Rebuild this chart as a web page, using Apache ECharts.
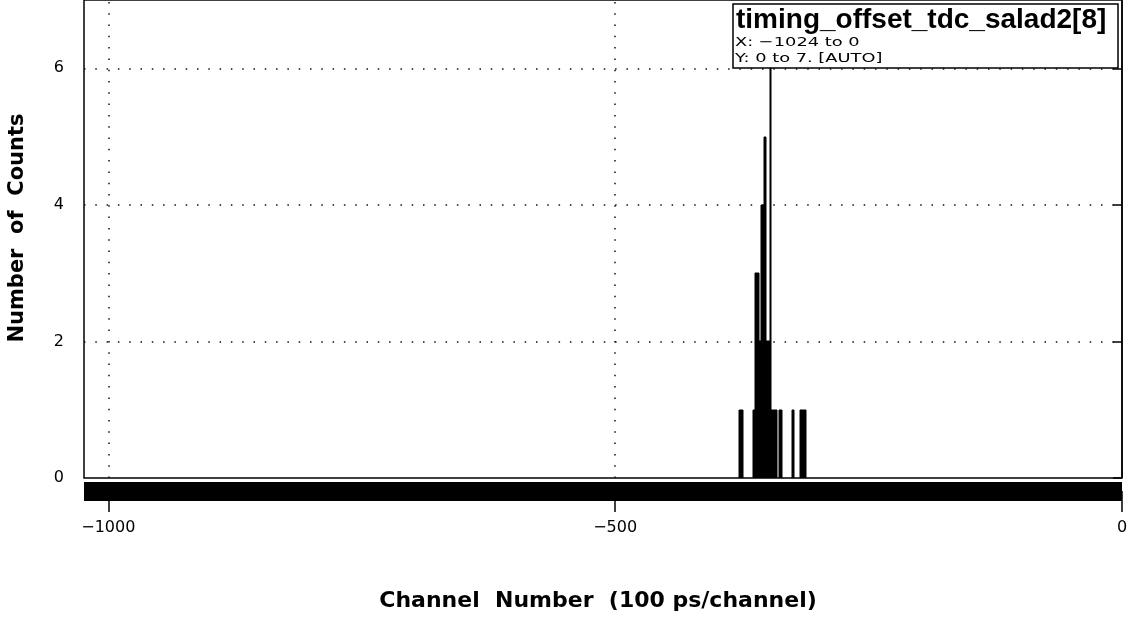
<!DOCTYPE html>
<html>
<head>
<meta charset="utf-8">
<script src="https://cdn.jsdelivr.net/npm/echarts@6/dist/echarts.min.js"></script>
<style>
  html, body { margin: 0; padding: 0; background: #fff; }
  #chart { width: 1130px; height: 617px; }
</style>
</head>
<body>
<div id="chart"></div>
<script>
// Histogram: one entry per filled channel (lower edge) and its count
const binChannels = [
  -378, -377, -376, -375,
  -364, -363,
  -362, -361, -360, -359,
  -358, -357,
  -356, -355, -354,
  -353, -352,
  -351, -350, -349, -348,
  -347,
  -346, -345, -344, -343, -342, -341,
  -338, -337, -336,
  -326, -325,
  -318, -317, -316, -315, -314, -313
];
const binCounts = [
  1, 1, 1, 1,
  1, 1,
  3, 3, 3, 3,
  2, 2,
  4, 4, 4,
  5, 5,
  2, 2, 2, 2,
  6,
  1, 1, 1, 1, 1, 1,
  1, 1, 1,
  1, 1,
  1, 1, 1, 1, 1, 1
];

const xRange = [-1024, 0];
const yRange = [0, 7];
const xTicks = [-1000, -500, 0];
const yTicks = [0, 2, 4, 6];

const histTitle = 'timing_offset_tdc_salad2[8]';
const rangeLines = ['X: \u22121024 to 0', 'Y: 0 to 7. [AUTO]'];
const xTitle = 'Channel  Number  (100 ps/channel)';
const yTitle = 'Number  of  Counts';

const minus = v => (v < 0 ? '\u2212' + Math.abs(v) : String(v));

const chart = echarts.init(document.getElementById('chart'), null, { renderer: 'canvas' });

const dotted = { color: '#111', width: 1.5, type: [1.5, 9.8], cap: 'butt' };

chart.setOption({
  animation: false,
  backgroundColor: '#fff',
  grid: {
    left: 84, right: 8, top: 0, bottom: 139,
    containLabel: false,
    outerBoundsMode: 'none',
    show: true,
    borderColor: '#000',
    borderWidth: 1.5,
    backgroundColor: 'transparent'
  },
  xAxis: {
    type: 'value',
    min: xRange[0],
    max: xRange[1],
    offset: 13,
    axisLine: { show: true, onZero: false, lineStyle: { color: '#000', width: 19, cap: 'butt' } },
    axisTick: { show: true, length: 21, customValues: xTicks, lineStyle: { color: '#000', width: 1.5, cap: 'butt' } },
    axisLabel: {
      customValues: xTicks,
      formatter: minus,
      margin: 29,
      color: '#000',
      fontFamily: 'DejaVu Sans',
      fontSize: 16
    },
    splitLine: { show: false }
  },
  yAxis: {
    type: 'value',
    min: yRange[0],
    max: yRange[1],
    axisLine: { show: true, lineStyle: { color: '#000', width: 1.5, cap: 'butt' } },
    axisTick: { show: true, length: 9, customValues: yTicks, lineStyle: { color: '#000', width: 1.5, cap: 'butt' } },
    axisLabel: {
      customValues: yTicks,
      margin: 20,
      color: '#000',
      fontFamily: 'DejaVu Sans',
      fontSize: 16
    },
    splitLine: { show: false }
  },
  series: [
    {
      // dotted reference lines at the labelled ticks
      type: 'line',
      data: [],
      silent: true,
      markLine: {
        silent: true,
        symbol: 'none',
        label: { show: false },
        lineStyle: dotted,
        data: xTicks.filter(v => v > xRange[0] && v < xRange[1]).map(v => ({ xAxis: v }))
          .concat(yTicks.filter(v => v > yRange[0] && v < yRange[1]).map(v => ({ yAxis: v })))
      }
    },
    {
      type: 'custom',
      data: binChannels.map((c, i) => [c, binCounts[i]]),
      encode: { x: 0, y: 1 },
      clip: true,
      renderItem(params, api) {
        const c = api.value(0);
        const v = api.value(1);
        const p0 = api.coord([c, 0]);
        const p1 = api.coord([c + 1, v]);
        // snap each channel to whole device pixels so bins tile cleanly
        const x0 = Math.round(p0[0]);
        const x1 = Math.max(x0 + 1, Math.round(p1[0]));
        const yTop = Math.round(p1[1]);
        return {
          type: 'rect',
          shape: { x: x0, y: yTop, width: x1 - x0, height: Math.round(p0[1]) - yTop },
          style: { fill: '#000', stroke: '#000', lineWidth: 1 }
        };
      }
    }
  ],
  graphic: [
    {
      type: 'rect',
      shape: { x: 733, y: 4, width: 385, height: 64 },
      style: { fill: 'none', stroke: '#000', lineWidth: 1.5 },
      z: 100
    },
    {
      type: 'text',
      x: 736, y: 20,
      style: {
        text: histTitle,
        font: 'bold 28px "Liberation Sans"',
        fill: '#000',
        verticalAlign: 'middle'
      },
      z: 101
    },
    {
      type: 'text',
      x: 735, y: 42.5,
      scaleX: 1.37,
      style: { text: rangeLines[0], font: '13px "DejaVu Sans"', fill: '#000', verticalAlign: 'middle' },
      z: 101
    },
    {
      type: 'text',
      x: 735, y: 58.5,
      scaleX: 1.37,
      style: { text: rangeLines[1], font: '13px "DejaVu Sans"', fill: '#000', verticalAlign: 'middle' },
      z: 101
    },
    {
      type: 'text',
      x: 598, y: 601,
      style: {
        text: xTitle,
        font: 'bold 22px "DejaVu Sans"',
        fill: '#000',
        align: 'center',
        verticalAlign: 'middle'
      }
    },
    {
      type: 'text',
      x: 18, y: 228,
      rotation: Math.PI / 2,
      style: {
        text: yTitle,
        font: 'bold 21px "DejaVu Sans"',
        fill: '#000',
        align: 'center',
        verticalAlign: 'middle'
      }
    }
  ]
});
</script>
</body>
</html>
